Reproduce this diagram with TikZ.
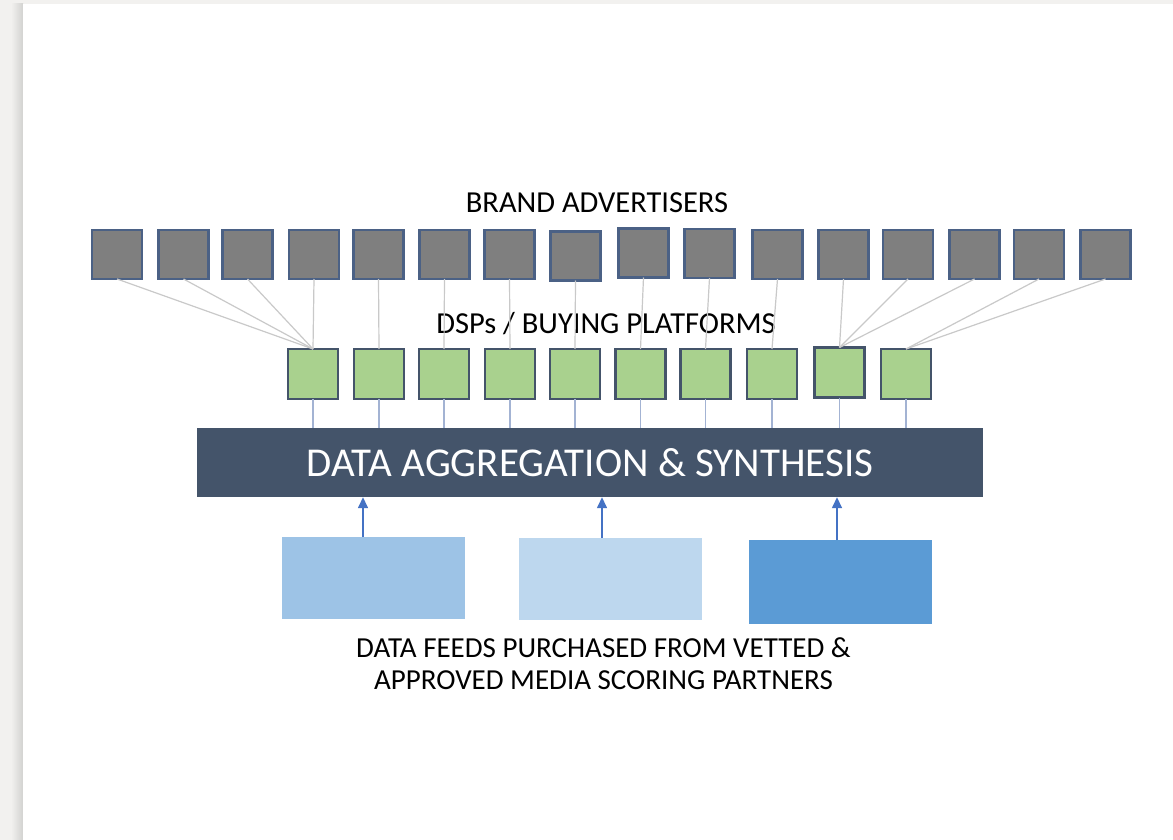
\documentclass[tikz,border=0pt]{standalone}
\usepackage{fontspec}
\setmainfont{Carlito}
\usetikzlibrary{arrows.meta}

\definecolor{pagegray}{HTML}{F2F1EF}
\definecolor{shadowgray}{HTML}{D2D2D0}
\definecolor{brandfill}{HTML}{7F7F7F}
\definecolor{brandedge}{HTML}{4B6185}
\definecolor{dspfill}{HTML}{A9D18E}
\definecolor{dspedge}{HTML}{44546A}
\definecolor{barslate}{HTML}{44546A}
\definecolor{feedmid}{HTML}{9DC3E6}
\definecolor{feedlight}{HTML}{BDD7EE}
\definecolor{feeddark}{HTML}{5B9BD5}
\definecolor{linkgray}{HTML}{C9C9C9}
\definecolor{dropblue}{HTML}{A3B3D3}
\definecolor{arrowblue}{HTML}{4472C4}

\begin{document}
\begin{tikzpicture}[x=1pt,y=-1pt,
  brand/.style={draw=brandedge,fill=brandfill,line width=2.2pt,minimum width=50pt,minimum height=49pt,inner sep=0pt,outer sep=0pt},
  dsp/.style={draw=dspedge,fill=dspfill,line width=2.2pt,minimum width=50pt,minimum height=50pt,inner sep=0pt,outer sep=0pt},
  feed/.style={minimum width=183pt,minimum height=82pt,inner sep=0pt,outer sep=0pt},
  link/.style={draw=linkgray,line width=1.2pt},
  drop/.style={draw=dropblue,line width=1.5pt},
  feedarrow/.style={draw=arrowblue,line width=1.5pt,-{Triangle[width=10pt,length=11pt]}},
  tierlabel/.style={anchor=base,inner sep=0pt,font=\fontsize{30.5}{34}\selectfont}]
\useasboundingbox (0,0) rectangle (1173,840);
% page and its shadow
\fill[pagegray] (0,0) rectangle (1173,840);
\shade[left color=pagegray,right color=shadowgray] (11,4) rectangle (23,840);
\fill[white] (23,4) rectangle (1173,840);

% top row: advertisers
\node[tierlabel] (brandtitle) at (597,212) {BRAND ADVERTISERS};
\node[brand] (b1) at (117,254.5) {};
\node[brand] (b2) at (183.5,254.5) {};
\node[brand] (b3) at (247.5,254.5) {};
\node[brand] (b4) at (314,254.5) {};
\node[brand] (b5) at (378.5,254.5) {};
\node[brand] (b6) at (444.5,254.5) {};
\node[brand] (b7) at (509.5,254.5) {};
\node[brand] (b8) at (575.5,256) {};
\node[brand] (b9) at (643.5,253) {};
\node[brand] (b10) at (709.5,253.5) {};
\node[brand] (b11) at (777.5,254.5) {};
\node[brand] (b12) at (843.5,254.5) {};
\node[brand] (b13) at (908,254.5) {};
\node[brand] (b14) at (974.5,254.5) {};
\node[brand] (b15) at (1039,254.5) {};
\node[brand] (b16) at (1105.5,254.5) {};

% middle row: buying platforms
\node[tierlabel] (dsptitle) at (606,333) {DSPs / BUYING PLATFORMS};
\node[dsp] (d1) at (313,374) {};
\node[dsp] (d2) at (379,374) {};
\node[dsp] (d3) at (444,374) {};
\node[dsp] (d4) at (510,374) {};
\node[dsp] (d5) at (575,374) {};
\node[dsp] (d6) at (640.5,374) {};
\node[dsp] (d7) at (705.5,374) {};
\node[dsp] (d8) at (772,374) {};
\node[dsp] (d9) at (839.5,372.5) {};
\node[dsp] (d10) at (906,374) {};

% links advertisers -> platforms
\draw[link] (b1.south) -- (d1.north);
\draw[link] (b2.south) -- (d1.north);
\draw[link] (b3.south) -- (d1.north);
\draw[link] (b4.south) -- (d1.north);
\draw[link] (b5.south) -- (d2.north);
\draw[link] (b6.south) -- (d3.north);
\draw[link] (b7.south) -- (d4.north);
\draw[link] (b8.south) -- (d5.north);
\draw[link] (b9.south) -- (d6.north);
\draw[link] (b10.south) -- (d7.north);
\draw[link] (b11.south) -- (d8.north);
\draw[link] (b12.south) -- (d9.north);
\draw[link] (b13.south) -- (d9.north);
\draw[link] (b14.south) -- (d9.north);
\draw[link] (b15.south) -- (d10.north);
\draw[link] (b16.south) -- (d10.north);

% aggregation bar
\node[fill=barslate,text=white,minimum width=786pt,minimum height=69pt,inner sep=0pt,
  font=\fontsize{41}{46}\selectfont] (bar) at (590,462.5) {DATA AGGREGATION \& SYNTHESIS};
\draw[drop] (d1.south) -- (d1.south |- bar.north);
\draw[drop] (d2.south) -- (d2.south |- bar.north);
\draw[drop] (d3.south) -- (d3.south |- bar.north);
\draw[drop] (d4.south) -- (d4.south |- bar.north);
\draw[drop] (d5.south) -- (d5.south |- bar.north);
\draw[drop] (d6.south) -- (d6.south |- bar.north);
\draw[drop] (d7.south) -- (d7.south |- bar.north);
\draw[drop] (d8.south) -- (d8.south |- bar.north);
\draw[drop] (d9.south) -- (d9.south |- bar.north);
\draw[drop] (d10.south) -- (d10.south |- bar.north);

% data feeds
\node[feed,fill=feedmid] (f1) at (373.5,578) {};
\node[feed,fill=feedlight] (f2) at (610.5,578.5) {};
\node[feed,fill=feeddark,minimum height=84pt] (f3) at (840.5,582) {};
\draw[feedarrow] ([xshift=-10.5pt]f1.north) -- ([xshift=-10.5pt]f1.north |- bar.south);
\draw[feedarrow] ([xshift=-8.5pt]f2.north) -- ([xshift=-8.5pt]f2.north |- bar.south);
\draw[feedarrow] ([xshift=-3.5pt]f3.north) -- ([xshift=-3.5pt]f3.north |- bar.south);
\node[anchor=base,align=center,inner sep=0pt,font=\fontsize{29}{32}\selectfont] (feedtitle) at (603.5,689)
  {DATA FEEDS PURCHASED FROM VETTED \&\\APPROVED MEDIA SCORING PARTNERS};
\end{tikzpicture}
\end{document}
